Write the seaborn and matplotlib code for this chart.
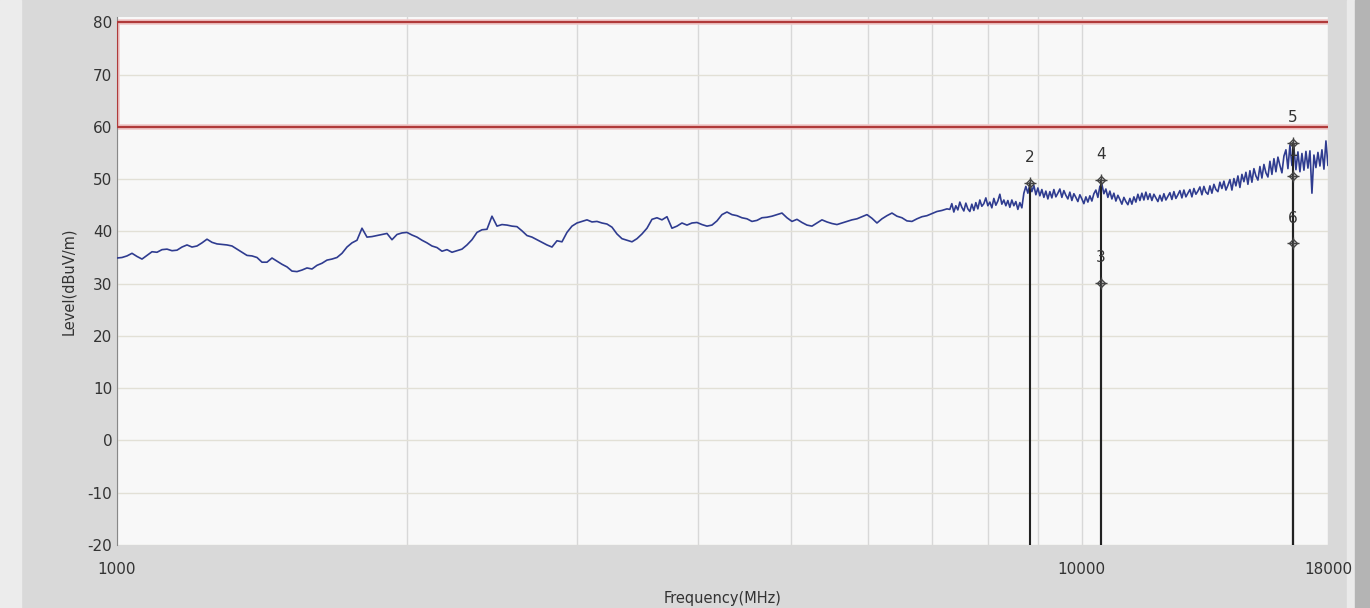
import numpy as np
import pandas as pd
import matplotlib
matplotlib.use("Agg")
import matplotlib.pyplot as plt
import seaborn as sns

# ---- data ----
# low part of the sweep, 1000 .. 7250 MHz (smooth trace)
level_low = [
    34.9, 35.0, 35.3, 35.8, 35.2, 34.7, 35.4, 36.1, 36.0, 36.5,
    36.6, 36.3, 36.4, 37.0, 37.4, 37.0, 37.2, 37.8, 38.5, 37.9,
    37.6, 37.5, 37.4, 37.2, 36.6, 36.0, 35.4, 35.3, 35.0, 34.1,
    34.1, 34.9, 34.3, 33.7, 33.2, 32.4, 32.3, 32.6, 33.0, 32.8,
    33.5, 33.9, 34.5, 34.7, 35.0, 35.8, 37.0, 37.8, 38.3, 40.6,
    38.9, 39.0, 39.2, 39.4, 39.6, 38.4, 39.4, 39.7, 39.8, 39.3,
    38.9, 38.3, 37.8, 37.2, 36.9, 36.2, 36.5, 36.0, 36.3, 36.6,
    37.4, 38.4, 39.8, 40.3, 40.4, 42.9, 41.0, 41.3, 41.2, 41.0,
    40.9, 40.1, 39.2, 38.9, 38.4, 37.9, 37.4, 37.0, 38.2, 38.0,
    39.8, 41.0, 41.6, 41.9, 42.2, 41.8, 41.9, 41.6, 41.4, 40.8,
    39.5, 38.6, 38.3, 38.0, 38.6, 39.5, 40.6, 42.3, 42.6, 42.2,
    42.8, 40.6, 41.0, 41.6, 41.2, 41.6, 41.7, 41.3, 41.0, 41.2,
    42.0, 43.2, 43.7, 43.2, 43.0, 42.6, 42.4, 41.9, 42.1, 42.6,
    42.7, 42.9, 43.2, 43.5, 42.6, 41.9, 42.3, 41.7, 41.2, 41.0,
    41.6, 42.2, 41.8, 41.5, 41.3, 41.6, 41.9, 42.2, 42.4, 42.8,
    43.2, 42.5, 41.6, 42.4, 43.0, 43.5, 42.9, 42.6, 42.0, 41.9,
    42.4, 42.8, 43.0, 43.4, 43.8, 44.0, 44.3,
]
# high part of the sweep, 7300 .. 18000 MHz (noisy trace)
level_high = [
    44.2, 45.3, 43.7, 44.9, 44.1, 45.6, 44.6, 43.9, 45.4, 44.3,
    43.8, 45.2, 44.0, 45.5, 44.3, 46.0, 44.8, 45.3, 46.4, 44.9,
    45.6, 44.5, 46.3, 45.0, 45.8, 47.1, 45.2, 46.0, 44.9, 45.9,
    44.6, 46.0, 44.9, 45.7, 44.2, 45.5, 44.5, 47.3, 48.6, 47.3,
    49.0, 47.6, 48.8, 47.0, 48.3, 46.8, 48.0, 46.5, 47.7, 46.2,
    47.6, 46.4, 48.0, 46.6, 47.3, 48.1, 46.5, 47.8, 46.9, 46.2,
    47.5, 45.9, 47.2, 46.5, 45.7, 47.0, 46.2, 45.3, 46.6, 45.6,
    46.8, 45.8, 47.2, 47.9, 46.5, 48.6, 49.0, 47.2, 48.1, 46.5,
    47.7, 46.2, 47.3, 45.8, 46.9, 46.1, 45.2, 46.5, 45.7, 45.1,
    46.3, 45.2, 46.6, 45.6, 47.1, 45.9, 47.3, 46.0, 47.5, 46.1,
    47.2, 45.9, 47.1, 46.4, 45.7, 46.9, 45.8, 47.2, 46.0, 46.7,
    47.4, 46.1, 47.6, 46.3, 47.0, 47.8, 46.4, 47.9, 46.6, 47.3,
    48.0, 46.6, 48.2, 47.1, 47.7, 48.5, 47.0, 48.6, 47.5, 47.1,
    48.7, 47.3, 49.0, 48.0, 47.6, 49.4, 48.2, 49.6, 47.9, 48.8,
    49.9, 47.9, 50.1, 48.7, 50.6, 48.4, 50.9, 49.5, 51.3, 49.0,
    51.6, 49.4, 52.0, 50.6, 49.8, 52.4, 50.2, 52.8, 51.2, 50.4,
    53.4, 50.9, 53.9, 51.4, 54.2, 52.6, 51.2, 54.4, 55.6, 52.0,
    56.5, 52.6, 55.8, 51.8, 55.2, 51.4, 54.9, 51.7, 55.3, 52.1,
    55.4, 47.3, 54.6, 52.2, 55.1, 52.5, 55.6, 51.9, 57.3, 52.6,
]

# markers
marker_labels = ["1", "2", "3", "4", "5", "6"]
marker_freq = [16560, 8840, 10470, 10470, 16560, 16560]
marker_level = [50.5, 49.2, 30.1, 49.8, 56.9, 37.7]

# limit line (dBuV/m)
limit_upper = 80
limit_lower = 60

x_tick_values = [1000, 10000, 18000]
x_tick_labels = ["1000", "10000", "18000"]
x_minor_values = [2000, 3000, 4000, 5000, 6000, 7000, 8000, 9000]
y_tick_values = list(range(-20, 81, 10))

# sweep frequency grid (MHz)
freq_low = np.geomspace(1000, 7250, len(level_low))
freq_high = np.geomspace(7300, 18000, len(level_high))
trace = pd.DataFrame({
    "freq": np.concatenate([freq_low, freq_high]),
    "level": level_low + level_high,
})

sns.set_style("white")
plt.rcParams["font.family"] = ["DejaVu Sans"]
plt.rcParams["axes.unicode_minus"] = False

fig = plt.figure(figsize=(13.7, 6.08), dpi=100, facecolor="#d9d9d9")
# window frame: light strip on the left, darker edge on the right
frame = [
    ((0.0, 0.0), 0.015, "#ececec"),
    ((0.983, 0.0), 0.006, "#eaeaea"),
    ((0.989, 0.0), 0.011, "#b4b4b4"),
]
for xy, w, c in frame:
    fig.patches.append(plt.Rectangle(xy, w, 1, transform=fig.transFigure,
                                     color=c, zorder=-10))

ax = fig.add_axes([0.0854, 0.1036, 0.8839, 0.8684])
ax.set_facecolor("#f8f8f8")
ax.set_xscale("log")
ax.set_xlim(1000, 18000)
ax.set_ylim(-20, 81)

# grid
ax.set_xticks(x_tick_values)
ax.set_xticklabels(x_tick_labels)
ax.set_xticks(x_minor_values, minor=True)
ax.set_xticklabels([], minor=True)
ax.set_yticks(y_tick_values)
ax.grid(True, which="both", axis="x", color="#d8d8d8", lw=1)
ax.grid(True, which="major", axis="y", color="#e2e0d6", lw=1)
ax.tick_params(which="both", length=0, labelsize=11, labelcolor="#333333")
ax.tick_params(axis="x", pad=12)

# limit line (pale halo + red line)
for c, w, z in [("#f0c8c8", 4, 2), ("#b03a3a", 1.6, 3)]:
    ax.plot([1000, 1000, 18000], [limit_lower, limit_upper, limit_upper],
            color=c, lw=w, zorder=z, solid_joinstyle="miter")
    ax.plot([1000, 18000], [limit_lower, limit_lower], color=c, lw=w, zorder=z)

# measured trace
sns.lineplot(data=trace, x="freq", y="level", ax=ax, color="#2f3c90",
             lw=1.2, zorder=4, estimator=None, sort=False)

# markers with drop lines
for lab, f, lv in zip(marker_labels, marker_freq, marker_level):
    ax.plot([f, f], [-20, lv], color="#222222", lw=1.5, zorder=5)
    ax.plot(f, lv, marker="D", ms=4, color="#444444", mfc="none", zorder=6)
    ax.plot(f, lv, marker="+", ms=9, color="#444444", mew=1, zorder=6)
    ax.text(f, lv + 3.4, lab, ha="center", va="bottom", fontsize=11,
            color="#333333", zorder=6)

for side in ["top", "right", "bottom"]:
    ax.spines[side].set_visible(False)
ax.spines["left"].set_color("#888888")

ax.set_xlabel("Frequency(MHz)", fontsize=10.5, color="#333333", labelpad=10)
ax.set_ylabel("Level(dBuV/m)", fontsize=10.5, color="#333333", labelpad=8)

fig.savefig("out.png", dpi=100, facecolor=fig.get_facecolor())
